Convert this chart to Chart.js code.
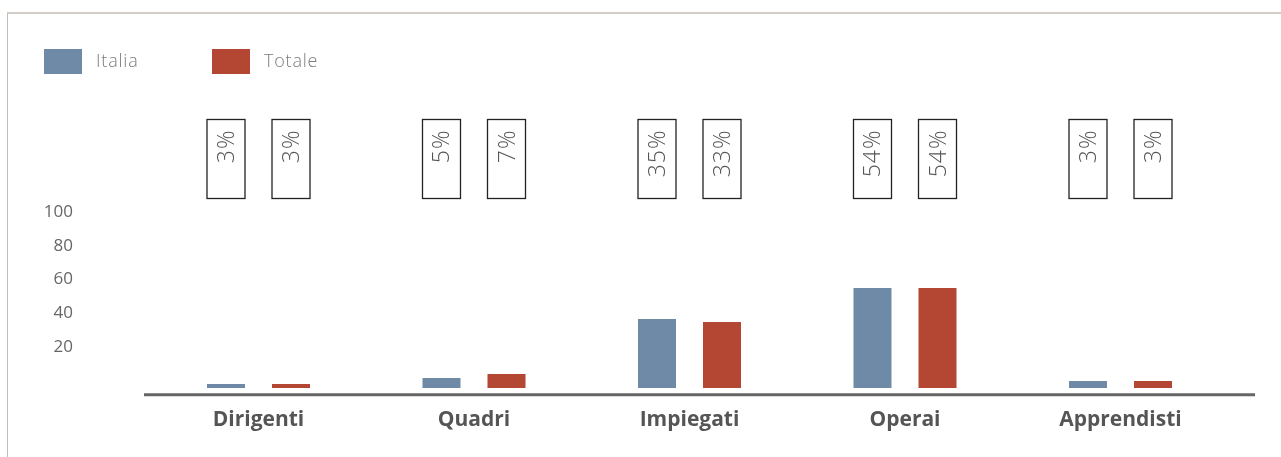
<!DOCTYPE html>
<html lang="it">
<head>
<meta charset="utf-8">
<title>Italia / Totale per qualifica</title>
<script src="https://cdn.jsdelivr.net/npm/chart.js@4.4.1/dist/chart.umd.min.js"></script>
<style>
  html, body { margin: 0; padding: 0; background: #fff; overflow: hidden; }
  .cornice { position: absolute; left: 7px; top: 12px; right: 0; bottom: -5px; border-left: 1px solid #c4bdb7; border-top: 2px solid #d3cdc8; }
  .contenitore { position: absolute; left: 0; top: 0; width: 1281px; height: 457px; }
</style>
</head>
<body>
<div class="cornice"></div>
<div class="contenitore"><canvas id="grafico-qualifiche"></canvas></div>
<script>
// Dati
const qualifiche = ['Dirigenti', 'Quadri', 'Impiegati', 'Operai', 'Apprendisti'];
const valoriItalia = [2.1, 5.3, 36.3, 52.6, 3.7];
const valoriTotale = [2.1, 7.4, 34.7, 52.6, 3.7];
const percentualiItalia = [3, 5, 35, 54, 3];
const percentualiTotale = [3, 7, 33, 54, 3];
const tickAsseY = [20, 40, 60, 80, 100];

const BLU = '#6e8aa6';
const ROSSO = '#b34734';

// Legenda disegnata a mano (posizioni fisse come nell'originale)
const legendaCustom = {
  id: 'legendaCustom',
  afterDraw(chart) {
    const ctx = chart.ctx;
    const posX = [44, 212];
    ctx.save();
    chart.data.datasets.forEach((ds, i) => {
      ctx.fillStyle = ds.backgroundColor;
      ctx.fillRect(posX[i], 49, 38, 25);
      ctx.fillStyle = '#7c7c7c';
      ctx.font = '300 18px "Open Sans"';
      ctx.letterSpacing = '0.8px';
      ctx.textBaseline = 'middle';
      ctx.textAlign = 'left';
      ctx.fillText(ds.label, posX[i] + 52, 62);
    });
    ctx.restore();
  }
};

// Riquadri con le percentuali sopra le barre
const riquadriPercentuali = {
  id: 'riquadriPercentuali',
  afterDatasetsDraw(chart) {
    const ctx = chart.ctx;
    const perc = [percentualiItalia, percentualiTotale];
    const top = 119.5, alt = 79;
    ctx.save();
    chart.data.datasets.forEach((ds, d) => {
      chart.getDatasetMeta(d).data.forEach((bar, i) => {
        const x = bar.x - bar.width / 2;
        ctx.strokeStyle = '#222';
        ctx.lineWidth = 1.3;
        ctx.strokeRect(x, top, bar.width, alt);
        ctx.save();
        ctx.translate(bar.x, top + 10);
        ctx.rotate(-Math.PI / 2);
        ctx.fillStyle = '#555';
        ctx.font = '300 23px "Open Sans"';
        ctx.letterSpacing = '1px';
        ctx.textAlign = 'right';
        ctx.textBaseline = 'alphabetic';
        ctx.fillText(perc[d][i] + '%', 0, 8);
        ctx.restore();
      });
    });
    ctx.restore();
  }
};

// Linea dell'asse x (più larga dell'area del grafico)
const lineaAsse = {
  id: 'lineaAsse',
  afterDraw(chart) {
    const { ctx, chartArea } = chart;
    ctx.save();
    ctx.strokeStyle = '#666';
    ctx.lineWidth = 3;
    ctx.beginPath();
    ctx.moveTo(chartArea.left - 6.75, chartArea.bottom);
    ctx.lineTo(chartArea.right + 26.75, chartArea.bottom);
    ctx.stroke();
    ctx.restore();
  }
};

new Chart(document.getElementById('grafico-qualifiche'), {
  type: 'bar',
  data: {
    labels: qualifiche,
    datasets: [
      {
        label: 'Italia',
        data: valoriItalia,
        backgroundColor: BLU,
        yAxisID: 'y'
      },
      {
        label: 'Totale',
        data: valoriTotale,
        backgroundColor: ROSSO,
        yAxisID: 'y'
      }
    ]
  },
  options: {
    responsive: true,
    maintainAspectRatio: false,
    animation: false,
    devicePixelRatio: 1,
    categoryPercentage: 0.6033,
    barPercentage: 0.5846,
    layout: {
      padding: { top: 212, right: 52.75, left: 0, bottom: 0 }
    },
    scales: {
      x: {
        grid: { display: false, drawTicks: false },
        border: { display: false },
        ticks: {
          color: '#555',
          padding: 13,
          font: { family: '"Open Sans"', size: 21, weight: '700' }
        },
        afterFit: s => { s.height = 62.3; }
      },
      y: {
        display: false,
        min: -3.53,
        max: 92.63
      },
      yTicks: {
        position: 'left',
        min: -8.1,
        max: 100,
        grid: { display: false, drawTicks: false },
        border: { display: false },
        ticks: {
          color: '#666',
          padding: 77.75,
          font: { family: '"Open Sans"', size: 17 }
        },
        afterBuildTicks: s => { s.ticks = tickAsseY.map(v => ({ value: v })); },
        afterFit: s => {
          s.width = 150.75;
          s.paddingTop = 0;
          s.paddingBottom = 0;
        }
      }
    },
    plugins: {
      legend: { display: false },
      tooltip: { enabled: false }
    }
  },
  plugins: [legendaCustom, riquadriPercentuali, lineaAsse]
});
</script>
</body>
</html>
